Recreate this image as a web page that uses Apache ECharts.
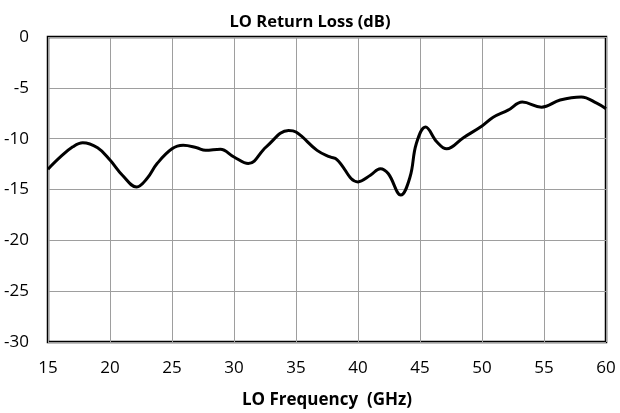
<!DOCTYPE html>
<html>
<head>
<meta charset="utf-8">
<script src="https://cdn.jsdelivr.net/npm/echarts@6/dist/echarts.min.js"></script>
<style>
html,body{margin:0;padding:0;background:#fff;}
#chart{width:620px;height:413px;}
</style>
</head>
<body>
<div id="chart"></div>
<script>
const titleText = 'LO Return Loss (dB)';
const xAxisTitle = 'LO Frequency  (GHz)';
const freqGHz = [15, 16, 17, 17.8, 19, 20, 21, 22.15, 23, 23.8, 25, 25.9, 27, 27.7, 28.9, 30, 31.15, 32.6, 34.4, 35, 36.7, 37.75, 38.3, 40, 41, 41.8, 42.45, 43.45, 44.2, 44.7, 45.45, 46.35, 47.15, 48.5, 50, 50.9, 52.1, 53.25, 54.8, 56.3, 58.0, 59.25, 60];
const returnLossDb = [-13.0, -11.8, -10.8, -10.4, -10.9, -12.1, -13.6, -14.75, -13.9, -12.45, -11.0, -10.65, -10.9, -11.15, -11.05, -11.8, -12.45, -10.8, -9.2, -9.35, -11.15, -11.8, -12.05, -14.25, -13.6, -12.95, -13.45, -15.55, -13.75, -10.5, -8.85, -10.3, -11.0, -9.9, -8.75, -7.9, -7.2, -6.4, -6.9, -6.2, -5.9, -6.5, -7.05];
const xTicks = {min: 15, max: 60, interval: 5};
const yTicks = {min: -30, max: 0, interval: 5};

const points = freqGHz.map((f, i) => [f, returnLossDb[i]]);
const chart = echarts.init(document.getElementById('chart'), null, {renderer: 'canvas'});
const font = '"Open Sans", "Liberation Sans", sans-serif';
chart.setOption({
  animation: false,
  backgroundColor: '#ffffff',
  title: {
    text: titleText,
    left: 'center',
    top: 9,
    textStyle: {fontFamily: font, fontWeight: 'bold', fontSize: 16.5, color: '#000'}
  },
  grid: {
    left: 48, right: 14, top: 37, bottom: 71,
    outerBoundsMode: 'none',
    containLabel: false,
    show: true, borderColor: '#000', borderWidth: 2.5, backgroundColor: 'transparent'
  },
  xAxis: {
    type: 'value',
    min: xTicks.min, max: xTicks.max, interval: xTicks.interval,
    name: xAxisTitle,
    nameLocation: 'middle',
    nameGap: 50,
    nameTextStyle: {fontFamily: font, fontWeight: 'bold', fontSize: 17, color: '#000'},
    axisLine: {show: false},
    axisTick: {show: false},
    axisLabel: {fontFamily: font, fontSize: 17, color: '#000', margin: 18},
    splitLine: {show: true, lineStyle: {color: '#9e9e9e', width: 1}}
  },
  yAxis: {
    type: 'value',
    min: yTicks.min, max: yTicks.max, interval: yTicks.interval,
    axisLine: {show: false},
    axisTick: {show: false},
    axisLabel: {fontFamily: font, fontSize: 17, color: '#000', margin: 19},
    splitLine: {show: true, lineStyle: {color: '#9e9e9e', width: 1}}
  },
  series: [{
    type: 'line',
    data: points,
    smooth: 0.4,
    showSymbol: false,
    lineStyle: {color: '#000', width: 3}
  }]
});
</script>
</body>
</html>
